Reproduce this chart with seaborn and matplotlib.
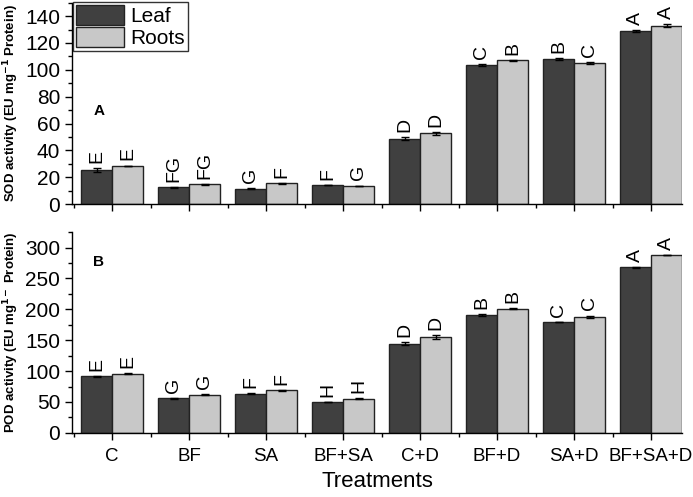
import numpy as np
import matplotlib.pyplot as plt
import matplotlib.ticker as mticker
import pandas as pd
import seaborn as sns

treatments = ["C", "BF", "SA", "BF+SA", "C+D", "BF+D", "SA+D", "BF+SA+D"]

sod_leaf = [25.4, 12.5, 11.5, 14.2, 48.6, 103.5, 108.0, 129.0]
sod_roots = [28.4, 14.7, 15.5, 13.5, 52.6, 107.0, 104.8, 133.0]
sod_leaf_err = [1.2, 0.3, 0.6, 0.3, 1.0, 0.7, 0.6, 0.9]
sod_roots_err = [0.3, 0.3, 0.3, 0.3, 1.0, 0.6, 0.7, 0.9]
sod_leaf_letters = ["E", "FG", "G", "F", "D", "C", "B", "A"]
sod_roots_letters = ["E", "FG", "F", "G", "D", "B", "C", "A"]

pod_leaf = [91.5, 56.0, 63.5, 50.0, 144.5, 191.0, 179.5, 268.0]
pod_roots = [95.8, 62.0, 69.0, 55.5, 155.0, 201.0, 188.0, 288.0]
pod_leaf_err = [0.5, 0.5, 0.5, 0.5, 3.0, 1.5, 0.5, 0.5]
pod_roots_err = [1.0, 0.5, 0.5, 0.5, 3.0, 0.5, 2.0, 0.5]
pod_leaf_letters = ["E", "G", "F", "H", "D", "B", "C", "A"]
pod_roots_letters = ["E", "G", "F", "H", "D", "B", "C", "A"]

plt.rcParams["font.family"] = ["Liberation Sans", "DejaVu Sans"]

colors = {"Leaf": "#404040", "Roots": "#c8c8c8"}


def make_df(leaf, roots):
    return pd.DataFrame({
        "Treatment": treatments * 2,
        "Tissue": ["Leaf"] * len(treatments) + ["Roots"] * len(treatments),
        "value": leaf + roots,
    })


def draw_panel(ax, leaf, roots, errs, letters, ymax, major, minor, ylabel, tag, tag_y, legend):
    df = make_df(leaf, roots)
    sns.barplot(data=df, x="Treatment", y="value", hue="Tissue", palette=colors,
                order=treatments, hue_order=["Leaf", "Roots"], width=0.8, saturation=1,
                edgecolor="#222222", linewidth=1.0, errorbar=None, legend=legend, ax=ax)
    pad = ymax * 0.025
    for cont, err, lab in zip(ax.containers, errs, letters):
        for bar, e, t in zip(cont, err, lab):
            xc = bar.get_x() + bar.get_width() / 2
            h = bar.get_height()
            ax.errorbar(xc, h, yerr=e, fmt="none", ecolor="black", elinewidth=1, capsize=3)
            ax.text(xc, h + e + pad, t, rotation=90, ha="center", va="bottom", fontsize=14)
    ax.set_ylim(0, ymax)
    ax.set_xlim(-0.52, 7.4)
    ax.yaxis.set_major_locator(mticker.MultipleLocator(major))
    ax.yaxis.set_minor_locator(mticker.MultipleLocator(minor))
    ax.xaxis.set_minor_locator(mticker.FixedLocator(np.arange(-0.5, 8, 1)))
    ax.tick_params(axis="both", which="major", direction="out", length=5, width=1)
    ax.tick_params(axis="y", which="major", labelsize=15)
    ax.tick_params(axis="x", which="major", labelsize=13.5, pad=6)
    ax.tick_params(axis="both", which="minor", direction="out", length=3, width=1)
    ax.set_ylabel(ylabel, fontsize=9.5, fontweight="bold", labelpad=3)
    ax.set_xlabel("")
    ax.text(0.035, tag_y, tag, transform=ax.transAxes, fontsize=11, fontweight="bold",
            va="center")
    sns.despine(ax=ax)
    for s in ["left", "bottom"]:
        ax.spines[s].set_linewidth(1.0)


fig = plt.figure(figsize=(6.93, 4.97), dpi=100)
ax1 = fig.add_axes([0.104, 0.5895, 0.88, 0.405])
ax2 = fig.add_axes([0.104, 0.129, 0.88, 0.404])

draw_panel(ax1, sod_leaf, sod_roots, [sod_leaf_err, sod_roots_err],
           [sod_leaf_letters, sod_roots_letters], 150, 20, 10,
           "SOD activity (EU mg$^{\\mathbf{-1}}$ Protein)", "A", 0.46, True)
draw_panel(ax2, pod_leaf, pod_roots, [pod_leaf_err, pod_roots_err],
           [pod_leaf_letters, pod_roots_letters], 325, 50, 25,
           "POD activity (EU mg$^{\\mathbf{1-}}$ Protein)", "B", 0.85, False)

ax1.set_xticklabels([])
ax2.set_xlabel("Treatments", fontsize=16, labelpad=4)

leg = ax1.legend(loc="upper left", bbox_to_anchor=(0.0, 1.01), fontsize=15,
                 frameon=True, fancybox=False, edgecolor="black",
                 handlelength=2.3, handleheight=1.1, borderpad=0.15,
                 labelspacing=0.05, handletextpad=0.3, borderaxespad=0.05)
leg.get_frame().set_linewidth(1.0)

fig.savefig("out.png", dpi=100)
